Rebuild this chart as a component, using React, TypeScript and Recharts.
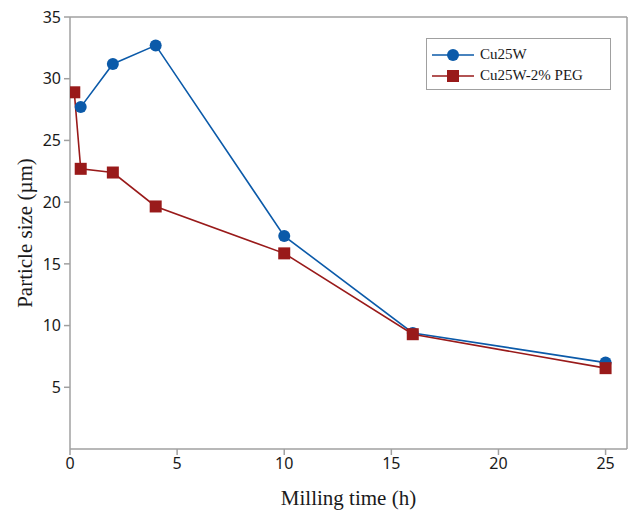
import { Label, Line, LineChart, ReferenceLine, XAxis, YAxis } from "recharts";

const BLUE = "#0b5aa9";
const RED = "#991a1a";
const AXIS = "#a0a0a0";
const INK = "#1a1a1a";

// milling time (h) and particle size (µm)
const cuTime = [0.5, 2, 4, 10, 16, 25];
const cuSize = [27.7, 31.2, 32.7, 17.25, 9.4, 7.0];
const pegTime = [0.2, 0.5, 2, 4, 10, 16, 25];
const pegSize = [28.9, 22.7, 22.4, 19.65, 15.85, 9.3, 6.55];
const xTicks = [0, 5, 10, 15, 20, 25];
const yTicks = [5, 10, 15, 20, 25, 30, 35];

const cuData = cuTime.map((t, i) => ({ t, v: cuSize[i] }));
const pegData = pegTime.map((t, i) => ({ t, v: pegSize[i] }));

const tickStyle = { fill: INK, fontSize: 16, fontFamily: "Noto Sans" };

function SquareDot(props: any) {
  const { cx, cy, index } = props;
  if (cx == null || cy == null) return null;
  return <rect key={index} x={cx - 6} y={cy - 6} width={12} height={12} fill={RED} />;
}

function LegendBox() {
  const items = [
    { name: "Cu25W", color: BLUE, square: false },
    { name: "Cu25W-2% PEG", color: RED, square: true },
  ];
  return (
    <div style={{ position: "absolute", left: 426, top: 38, width: 185, height: 52, boxSizing: "border-box", border: `1px solid ${AXIS}`, background: "#fff", padding: "5px 0 0 5px" }}>
      {items.map((it) => (
        <div key={it.name} style={{ display: "flex", alignItems: "center", height: 21, fontFamily: "Liberation Serif", fontSize: 15, color: INK }}>
          <svg width={42} height={14} style={{ marginRight: 6 }}>
            <line x1={0} y1={7} x2={42} y2={7} stroke={it.color} strokeWidth={1.6} />
            {it.square ? <rect x={15} y={1} width={12} height={12} fill={it.color} /> : <circle cx={21} cy={7} r={6} fill={it.color} />}
          </svg>
          {it.name}
        </div>
      ))}
    </div>
  );
}

export default function App() {
  return (
    <div style={{ position: "absolute", left: 0, top: 0, width: 633, height: 510, background: "#fff" }}>
      <LineChart width={633} height={510} margin={{ top: 17, right: 6, left: 30, bottom: 31 }}>
        <XAxis
          type="number"
          dataKey="t"
          domain={[0, 26]}
          ticks={xTicks}
          allowDataOverflow
          tick={tickStyle}
          tickSize={6}
          tickMargin={3}
          stroke={AXIS}
          strokeWidth={1.5}
          height={30}
        >
          <Label value="Milling time (h)" position="insideBottom" offset={-26} style={{ fill: INK, fontSize: 21, fontFamily: "Liberation Serif" }} />
        </XAxis>
        <YAxis
          type="number"
          dataKey="v"
          domain={[0, 35]}
          ticks={yTicks}
          allowDataOverflow
          tick={tickStyle}
          tickSize={6}
          tickMargin={3}
          stroke={AXIS}
          strokeWidth={1.5}
          width={40}
        >
          <Label value="Particle size (µm)" angle={-90} position="insideLeft" offset={-5} style={{ textAnchor: "middle", fill: INK, fontSize: 21, fontFamily: "Liberation Serif" }} />
        </YAxis>
        <ReferenceLine y={35} stroke={AXIS} strokeWidth={1.5} />
        <ReferenceLine x={26} stroke={AXIS} strokeWidth={1.5} />
        <Line data={cuData} dataKey="v" name="Cu25W" type="linear" stroke={BLUE} strokeWidth={1.6} dot={{ r: 6, fill: BLUE, stroke: BLUE, strokeWidth: 0 }} isAnimationActive={false} />
        <Line data={pegData} dataKey="v" name="Cu25W-2% PEG" type="linear" stroke={RED} strokeWidth={1.6} dot={<SquareDot />} isAnimationActive={false} />
      </LineChart>
      <LegendBox />
    </div>
  );
}
